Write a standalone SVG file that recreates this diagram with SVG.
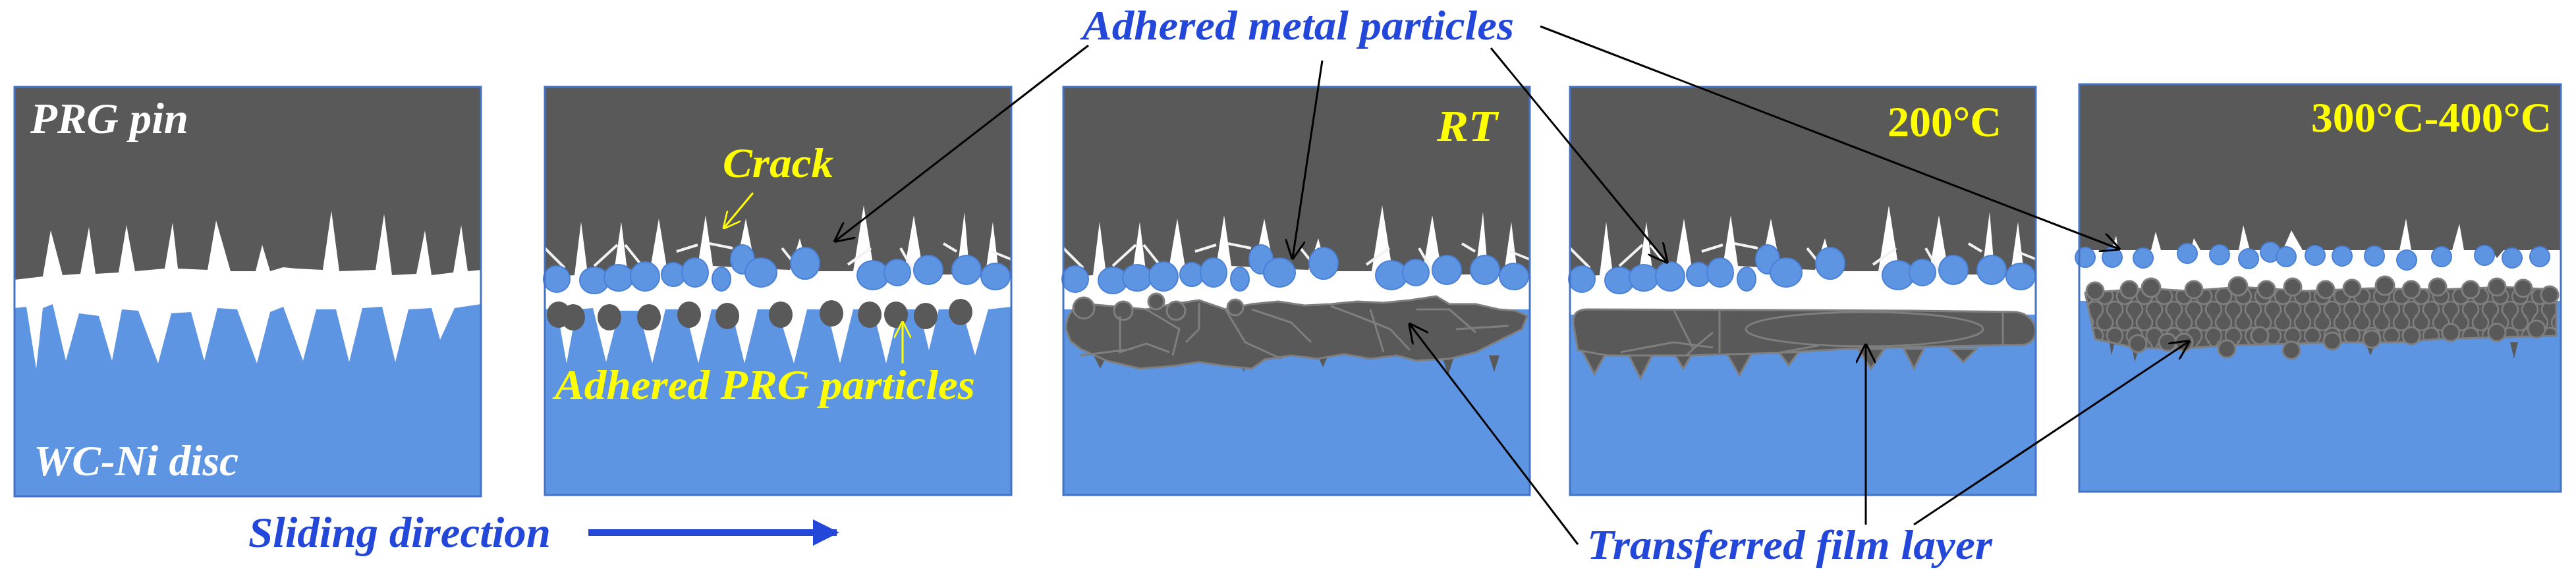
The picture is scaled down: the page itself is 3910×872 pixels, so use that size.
<svg xmlns="http://www.w3.org/2000/svg" width="3910" height="872" viewBox="0 0 3910 872">
<style>
.pin{fill:#595959}
.disc{fill:#5E95E3}
.frame{fill:none;stroke:#4472C4;stroke-width:3}
.bp{fill:#5E95E3;stroke:#4A80D6;stroke-width:2}
.gp{fill:#595959;stroke:#7F7F7F;stroke-width:3}
.crk{stroke:#F2F2F2;stroke-width:4;fill:none}
.lbl{font-family:"Liberation Serif",serif;font-weight:bold;font-style:italic}
.num{font-family:"Liberation Serif",serif;font-weight:bold}
.con{stroke:#000;stroke-width:3;fill:none}
.ycon{stroke:#FFFF00;stroke-width:3;fill:none}
</style>
<defs>
<marker id="ahl" viewBox="0 0 12 12" refX="11" refY="6" markerWidth="30" markerHeight="30" markerUnits="userSpaceOnUse" orient="auto">
<path d="M0,0 L12,6 L0,12" fill="none" stroke="#000" stroke-width="1.2"/>
</marker>
<marker id="ahy" viewBox="0 0 12 12" refX="11" refY="6" markerWidth="26" markerHeight="26" markerUnits="userSpaceOnUse" orient="auto">
<path d="M0,0 L12,6 L0,12" fill="none" stroke="#FFFF00" stroke-width="1.2"/>
</marker>
<marker id="ahb" viewBox="0 0 10 10" refX="9" refY="5" markerWidth="40" markerHeight="40" markerUnits="userSpaceOnUse" orient="auto">
<path d="M0,0 L10,5 L0,10 Z" fill="#2347D8"/>
</marker>
<pattern id="balls" width="30" height="40" patternUnits="userSpaceOnUse">
<rect width="30" height="40" fill="#595959"/>
<circle cx="15" cy="10" r="12" fill="#595959" stroke="#7F7F7F" stroke-width="2.5"/>
<circle cx="0" cy="30" r="12" fill="#595959" stroke="#7F7F7F" stroke-width="2.5"/>
<circle cx="30" cy="30" r="12" fill="#595959" stroke="#7F7F7F" stroke-width="2.5"/>
</pattern>
<g id="roughPin">
<path class="pin" d="M0,0 H708 V292 L690,290 680,205 668,288 645,288 637,190 625,285 575,285 560,195 545,282 500,282 484,180 468,280 400,280 387,230 372,278 320,276 305,200 290,274 255,272 244,195 232,272 185,274 173,200 160,276 125,278 116,205 105,280 65,284 55,205 45,286 0,290 Z"/>
<g class="crk">
<path d="M0,245 L30,275"/><path d="M75,272 L110,240"/><path d="M122,240 L150,275"/><path d="M200,250 L232,240"/><path d="M250,238 L285,245"/><path d="M360,245 L392,285"/><path d="M460,270 L495,245"/><path d="M540,245 L560,280"/><path d="M605,238 L625,250"/><path d="M678,250 L708,262"/>
</g>
<ellipse class="bp" cx="18" cy="292" rx="20" ry="20"/><ellipse class="bp" cx="75" cy="294" rx="22" ry="20"/><ellipse class="bp" cx="112" cy="290" rx="22" ry="20"/><ellipse class="bp" cx="152" cy="288" rx="22" ry="22"/><ellipse class="bp" cx="195" cy="285" rx="18" ry="18"/><ellipse class="bp" cx="228" cy="282" rx="20" ry="22"/><ellipse class="bp" cx="268" cy="292" rx="14" ry="18"/><ellipse class="bp" cx="300" cy="262" rx="18" ry="22"/><ellipse class="bp" cx="328" cy="282" rx="24" ry="22"/><ellipse class="bp" cx="395" cy="268" rx="22" ry="24"/><ellipse class="bp" cx="498" cy="286" rx="24" ry="22"/><ellipse class="bp" cx="535" cy="282" rx="20" ry="20"/><ellipse class="bp" cx="582" cy="278" rx="22" ry="22"/><ellipse class="bp" cx="640" cy="278" rx="22" ry="22"/><ellipse class="bp" cx="684" cy="288" rx="22" ry="20"/>
</g>
</defs>

<!-- Panel 1 -->
<g id="panel1">
<path class="pin" d="M22,132 H730 V410 L710,412 700,342 688,414 655,418 645,350 632,416 595,418 583,325 570,410 515,412 503,320 490,410 450,408 430,406 410,412 398,372 388,412 350,412 328,335 315,410 270,408 262,338 250,408 205,412 192,342 180,414 145,416 135,345 122,416 95,418 77,350 65,420 22,425 Z"/>
<path class="disc" d="M22,468 L40,466 55,560 65,468 80,462 100,548 120,476 150,480 170,548 185,470 210,472 240,552 260,476 290,474 310,548 330,468 360,470 390,552 410,474 430,466 460,548 480,470 510,470 530,550 550,468 580,466 600,550 620,470 655,468 668,516 690,468 730,462 V754 H22 Z"/>
<rect class="frame" x="22" y="132" width="708" height="622"/>
<text class="lbl" x="46" y="202" font-size="66" fill="#FFFFFF" textLength="240" lengthAdjust="spacingAndGlyphs">PRG pin</text>
<text class="lbl" x="51" y="722" font-size="66" fill="#FFFFFF" textLength="311" lengthAdjust="spacingAndGlyphs">WC-Ni disc</text>
</g>

<!-- Panel 2 -->
<g id="panel2">
<use href="#roughPin" x="827" y="132"/>
<path class="disc" d="M827,470 L845,468 860,552 875,470 900,468 920,550 940,472 970,472 990,552 1010,470 1040,470 1060,552 1080,470 1110,470 1130,552 1150,470 1180,470 1205,552 1225,470 1255,470 1275,552 1295,470 1325,470 1345,552 1365,470 1395,470 1410,532 1425,470 1460,470 1480,540 1500,470 1535,466 V752 H827 Z"/>
<g fill="#595959">
<ellipse cx="848" cy="478" rx="18" ry="20"/><ellipse cx="870" cy="482" rx="18" ry="20"/><ellipse cx="925" cy="482" rx="18" ry="20"/><ellipse cx="985" cy="482" rx="18" ry="20"/><ellipse cx="1046" cy="478" rx="18" ry="20"/><ellipse cx="1104" cy="480" rx="18" ry="20"/><ellipse cx="1185" cy="478" rx="18" ry="20"/><ellipse cx="1262" cy="476" rx="18" ry="20"/><ellipse cx="1320" cy="478" rx="18" ry="20"/><ellipse cx="1360" cy="478" rx="18" ry="20"/><ellipse cx="1405" cy="480" rx="18" ry="20"/><ellipse cx="1458" cy="474" rx="18" ry="20"/>
</g>
<rect class="frame" x="827" y="132" width="708" height="620"/>
<text class="lbl" x="1097" y="269" font-size="64" fill="#FFFF00" textLength="168" lengthAdjust="spacingAndGlyphs">Crack</text>
<line class="ycon" x1="1143" y1="293" x2="1099" y2="346" marker-end="url(#ahy)"/>
<text class="lbl" x="842" y="606" font-size="64" fill="#FFFF00" textLength="638" lengthAdjust="spacingAndGlyphs">Adhered PRG particles</text>
<line class="ycon" x1="1370" y1="552" x2="1370" y2="490" marker-end="url(#ahy)"/>
</g>

<!-- Panel 3 -->
<g id="panel3">
<use href="#roughPin" x="1614" y="132"/>
<rect class="disc" x="1614" y="470" width="708" height="282"/>
<path class="pin" d="M1660,540 L1670,560 1680,540 Z M1880,540 L1888,565 1896,540 Z M2000,540 L2008,558 2016,540 Z M2190,545 L2198,570 2206,545 Z M2260,540 L2268,565 2276,540 Z"/>
<path class="gp" d="M1618,500 C1618,478 1630,462 1650,462 L1700,466 1740,470 1780,462 1820,456 1860,470 1900,462 1940,458 1980,464 2020,462 2060,458 2100,460 2140,456 2180,450 2200,462 2240,462 2275,470 2300,472 2318,480 L2310,500 2270,520 2240,535 2200,545 2150,548 2120,540 2080,545 2040,538 2000,545 1960,540 1920,546 1900,560 1860,556 1820,550 1780,556 1730,560 1680,548 1640,530 1625,518 Z"/>
<g fill="none" stroke="#7F7F7F" stroke-width="3">
<circle cx="1645" cy="468" r="16" fill="#595959"/><circle cx="1705" cy="472" r="14" fill="#595959"/><circle cx="1755" cy="458" r="12" fill="#595959"/><circle cx="1785" cy="472" r="14" fill="#595959"/><circle cx="1875" cy="467" r="12" fill="#595959"/>
<path d="M1700,480 V535 L1740,522 L1775,535 M1740,470 L1790,500 L1780,540 M1820,460 L1820,500 L1800,520 M1860,470 L1890,520 L1945,545 M1900,470 L1960,490 L1990,520 M2020,465 L2060,480 L2110,500 L2140,532 M2080,470 L2100,535 M2150,470 L2200,470 L2240,505 M2210,500 L2290,495 M1640,540 L1720,530"/>
</g>
<rect class="frame" x="1614" y="132" width="708" height="620"/>
<text class="lbl" x="2181" y="214" font-size="68" fill="#FFFF00" textLength="92" lengthAdjust="spacingAndGlyphs">RT</text>
</g>

<!-- Panel 4 -->
<g id="panel4">
<use href="#roughPin" x="2383" y="132"/>
<rect class="disc" x="2383" y="478" width="707" height="274"/>
<path class="gp" d="M2400,530 L2420,568 2440,532 Z M2470,535 L2490,575 2510,535 Z M2540,535 L2555,560 2570,535 Z M2620,535 L2640,570 2660,535 Z M2700,535 L2715,555 2730,535 Z M2820,530 L2840,560 2860,530 Z M2890,530 L2905,560 2920,530 Z M2960,530 L2980,550 3000,530 Z"/>
<path class="gp" d="M2388,490 C2388,475 2395,470 2410,470 L2900,472 3060,474 C3095,478 3100,520 3070,524 L2950,526 2800,530 2700,536 2560,540 2440,540 2395,532 Z"/>
<g fill="none" stroke="#7F7F7F" stroke-width="3">
<ellipse cx="2830" cy="500" rx="180" ry="26"/>
<path d="M2540,470 L2570,530 L2560,540 M2610,470 V536 M2460,535 L2540,520 L2600,528 M2570,530 L2600,505 M2700,536 L2760,525 M3040,474 V522"/>
</g>
<rect class="frame" x="2383" y="132" width="707" height="620"/>
<text class="num" x="2865" y="207" font-size="66" fill="#FFFF00" textLength="173" lengthAdjust="spacingAndGlyphs">200°C</text>
</g>

<!-- Panel 5 -->
<g id="panel5">
<path class="pin" d="M3156,128 H3887 V380 L3850,380 3845,395 3842,378 3840,380 L3800,380 3790,392 3782,380 3740,380 3733,340 3722,380 3660,380 3652,332 3642,380 3495,380 3478,350 3465,380 3415,380 3405,342 3398,380 3340,380 3330,362 3325,380 3280,380 3272,352 3265,380 3215,380 3212,358 3205,380 3156,380 Z"/>
<g class="bp">
<circle cx="3165" cy="391" r="15"/><circle cx="3206" cy="391" r="15"/><circle cx="3253" cy="392" r="15"/><circle cx="3320" cy="385" r="15"/><circle cx="3369" cy="387" r="15"/><circle cx="3413" cy="393" r="15"/><circle cx="3446" cy="383" r="15"/><circle cx="3470" cy="390" r="15"/><circle cx="3514" cy="388" r="15"/><circle cx="3555" cy="389" r="15"/><circle cx="3604" cy="389" r="15"/><circle cx="3653" cy="395" r="15"/><circle cx="3706" cy="390" r="15"/><circle cx="3771" cy="388" r="15"/><circle cx="3813" cy="392" r="15"/><circle cx="3855" cy="390" r="15"/>
</g>
<rect class="disc" x="3156" y="457" width="731" height="290"/>
<path fill="#595959" d="M3200,510 L3205,540 3212,510 Z M3235,520 L3240,550 3250,520 Z M3470,525 L3478,545 3486,525 Z M3590,520 L3598,540 3606,520 Z M3810,520 L3816,545 3822,520 Z"/>
<path fill="url(#balls)" stroke="#7F7F7F" stroke-width="3" d="M3165,445 L3260,438 3320,442 3400,436 3500,442 3600,438 3700,440 3800,436 3880,440 L3880,510 3800,512 3700,515 3640,520 3560,520 3480,522 3380,525 3300,530 3240,528 3180,515 Z"/>
<g class="gp" stroke-width="2.5">
<circle cx="3180" cy="442" r="13"/><circle cx="3232" cy="440" r="13"/><circle cx="3265" cy="437" r="14"/><circle cx="3330" cy="440" r="13"/><circle cx="3397" cy="435" r="14"/><circle cx="3440" cy="440" r="13"/><circle cx="3480" cy="436" r="13"/><circle cx="3530" cy="440" r="13"/><circle cx="3570" cy="438" r="13"/><circle cx="3620" cy="434" r="14"/><circle cx="3660" cy="440" r="13"/><circle cx="3700" cy="436" r="13"/><circle cx="3750" cy="440" r="13"/><circle cx="3790" cy="436" r="13"/><circle cx="3830" cy="438" r="13"/><circle cx="3870" cy="448" r="13"/>
<circle cx="3245" cy="522" r="13"/><circle cx="3290" cy="520" r="13"/><circle cx="3315" cy="520" r="13"/><circle cx="3380" cy="530" r="13"/><circle cx="3430" cy="510" r="13"/><circle cx="3478" cy="532" r="13"/><circle cx="3540" cy="518" r="13"/><circle cx="3600" cy="515" r="13"/><circle cx="3660" cy="510" r="13"/><circle cx="3720" cy="505" r="13"/><circle cx="3790" cy="505" r="13"/><circle cx="3850" cy="500" r="13"/>
</g>
<rect class="frame" x="3156" y="128" width="731" height="619"/>
<text class="num" x="3508" y="200" font-size="64" fill="#FFFF00" textLength="365" lengthAdjust="spacingAndGlyphs">300°C-400°C</text>
</g>

<!-- Bottom label and arrow -->
<g id="sliding">
<text class="lbl" x="377" y="831" font-size="66" fill="#2347D8" textLength="459" lengthAdjust="spacingAndGlyphs">Sliding direction</text>
<line x1="893" y1="809" x2="1270" y2="809" stroke="#2347D8" stroke-width="10" marker-end="url(#ahb)"/>
</g>

<g id="labels">
<text class="lbl" x="1643" y="60" font-size="64" fill="#2347D8" textLength="655" lengthAdjust="spacingAndGlyphs">Adhered metal particles</text>
<text class="lbl" x="2409" y="849" font-size="64" fill="#2347D8" textLength="615" lengthAdjust="spacingAndGlyphs">Transferred film layer</text>
</g>

<g id="connectors">
<line class="con" x1="1652" y1="69" x2="1268" y2="366" marker-end="url(#ahl)"/>
<line class="con" x1="2007" y1="92" x2="1962" y2="392" marker-end="url(#ahl)"/>
<line class="con" x1="2263" y1="73" x2="2530" y2="398" marker-end="url(#ahl)"/>
<line class="con" x1="2338" y1="40" x2="3216" y2="378" marker-end="url(#ahl)"/>
<line class="con" x1="2395" y1="827" x2="2140" y2="493" marker-end="url(#ahl)"/>
<line class="con" x1="2832" y1="797" x2="2832" y2="524" marker-end="url(#ahl)"/>
<line class="con" x1="2905" y1="797" x2="3322" y2="519" marker-end="url(#ahl)"/>
</g>
</svg>
